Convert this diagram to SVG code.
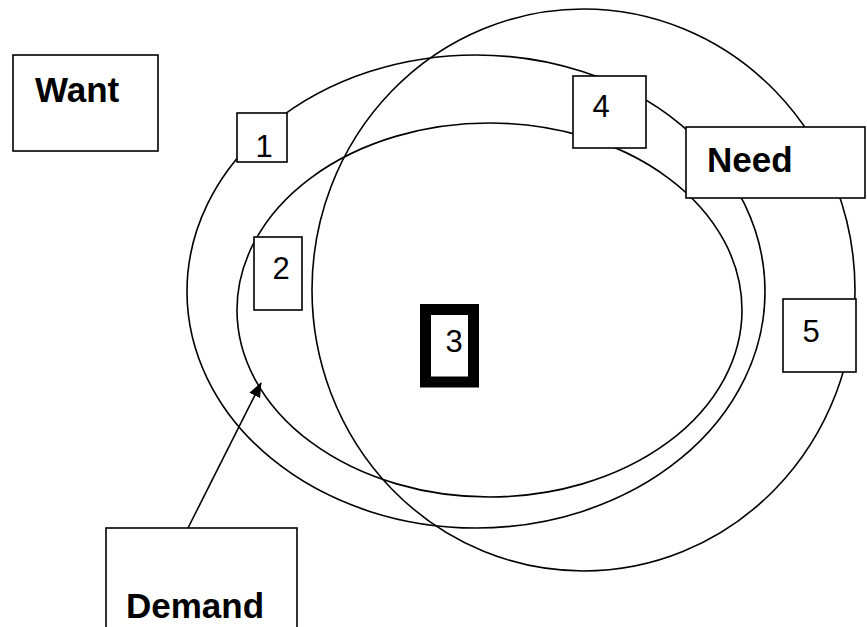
<svg xmlns="http://www.w3.org/2000/svg" width="867" height="627" viewBox="0 0 867 627">
<style>
.e{fill:none;stroke:#000;stroke-width:1.6}
.b{fill:#fff;stroke:#000;stroke-width:1.6}
.l{font-family:"Liberation Sans",Arial,sans-serif;font-weight:bold;font-size:35px;fill:#000}
.n{font-family:"Liberation Sans",Arial,sans-serif;font-size:31px;fill:#000;text-anchor:middle}
</style>
<defs>
<marker id="ah" markerWidth="15" markerHeight="12" refX="14" refY="6" orient="auto" markerUnits="userSpaceOnUse" viewBox="0 0 15 12">
<path d="M0,0 L15,6 L0,12 Z" fill="#000"/>
</marker>
</defs>
<rect width="867" height="627" fill="#fff"/>
<g id="ellipses">
<ellipse id="ellipse-want" class="e" cx="476" cy="291.5" rx="289" ry="236.5"/>
<ellipse id="ellipse-demand" class="e" cx="489.5" cy="310" rx="252.5" ry="187"/>
<ellipse id="ellipse-need" class="e" cx="583.5" cy="290" rx="271.5" ry="281"/>
</g>
<g id="connectors">
<line x1="188" y1="528" x2="261" y2="383" stroke="#000" stroke-width="1.6" marker-end="url(#ah)"/>
</g>
<g id="node-want"><rect class="b" x="13" y="55" width="145" height="96"/><text class="l" x="35" y="102">Want</text></g>
<g id="node-1"><rect class="b" x="237" y="113" width="50" height="49"/><text class="n" x="264" y="157">1</text></g>
<g id="node-4"><rect class="b" x="573" y="76" width="73" height="72"/><text class="n" x="601" y="117">4</text></g>
<g id="node-need"><rect class="b" x="686" y="127" width="179" height="71"/><text class="l" x="707" y="172">Need</text></g>
<g id="node-2"><rect class="b" x="254" y="237" width="48" height="73"/><text class="n" x="281" y="279">2</text></g>
<g id="node-3"><rect x="425.5" y="309.5" width="48" height="72.5" fill="#fff" stroke="#000" stroke-width="11"/><text class="n" x="454" y="352">3</text></g>
<g id="node-5"><rect class="b" x="783" y="299" width="73" height="73"/><text class="n" x="811" y="342">5</text></g>
<g id="node-demand"><rect class="b" x="106" y="528" width="191" height="110"/><text class="l" x="126" y="618">Demand</text></g>
</svg>
